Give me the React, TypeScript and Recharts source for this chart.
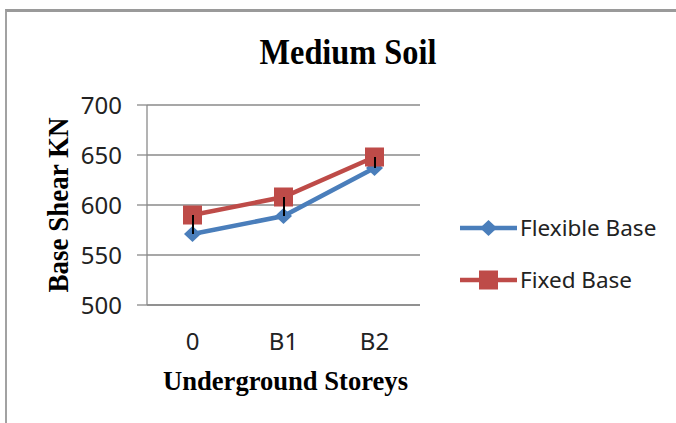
import React from 'react';
import { LineChart, BarChart, Line, Bar, XAxis, YAxis, CartesianGrid, Legend } from 'recharts';

// values
const storeys = ['0', 'B1', 'B2'];
const flexibleBase = [571, 589, 637];
const fixedBase = [590, 608, 648];
const yTicks = [500, 550, 600, 650, 700];
const yDomain = [500, 700];
const legendOrder = ['flexible', 'fixed'];

const BLUE = '#4a7ebb';
const RED = '#be4b48';
const GRID = '#8a8a8a';
const SANS = '"Noto Sans", "Open Sans", sans-serif';
const SERIF = '"Liberation Serif", "DejaVu Serif", serif';

const data = storeys.map((s, i) => ({
  storey: s,
  flexible: flexibleBase[i],
  fixed: fixedBase[i],
  // high-low line between the two series
  hiLo: [flexibleBase[i], fixedBase[i]],
}));

const diamond = (cx: number, cy: number, fill: string, key?: any) => (
  <path key={key} d={`M${cx},${cy - 8} L${cx + 8.5},${cy} L${cx},${cy + 8} L${cx - 8.5},${cy} Z`} fill={fill} />
);

const square = (cx: number, cy: number, fill: string, key?: any) => (
  <rect key={key} x={cx - 9.5} y={cy - 9.5} width={19} height={19} fill={fill} />
);

const renderLegend = (props: any) => {
  const { payload = [] } = props;
  const items = legendOrder
    .map((k) => payload.find((e: any) => e.dataKey === k && e.type !== 'none'))
    .filter(Boolean);
  return (
    <div style={{ display: 'flex', flexDirection: 'column', gap: 28 }}>
      {items.map((entry: any) => (
        <div key={entry.value} style={{ display: 'flex', alignItems: 'center', height: 24 }}>
          <svg width={62} height={24} style={{ display: 'block' }}>
            <line x1={2} x2={59} y1={12} y2={12} stroke={entry.color} strokeWidth={4.5} />
            {entry.dataKey === 'flexible' ? diamond(30.5, 12, entry.color) : square(30.5, 12, entry.color)}
          </svg>
          <span style={{ fontFamily: SANS, fontSize: 22.5, color: '#222', lineHeight: '24px' }}>{entry.value}</span>
        </div>
      ))}
    </div>
  );
};

const XLabel = (props: any) => {
  const { viewBox } = props;
  return (
    <text
      x={viewBox.x + viewBox.width / 2 + 2}
      y={viewBox.y + 85}
      textAnchor="middle"
      fontFamily={SERIF}
      fontWeight="bold"
      fontSize={27}
      fill="#000"
      textLength={245}
      lengthAdjust="spacingAndGlyphs"
    >
      Underground Storeys
    </text>
  );
};

const YLabel = (props: any) => {
  const { viewBox } = props;
  const x = viewBox.x + 21;
  const y = viewBox.y + viewBox.height / 2;
  return (
    <text
      x={x}
      y={y}
      transform={`rotate(-90 ${x} ${y})`}
      textAnchor="middle"
      fontFamily={SERIF}
      fontWeight="bold"
      fontSize={29}
      fill="#000"
      textLength={175}
      lengthAdjust="spacingAndGlyphs"
    >
      Base Shear KN
    </text>
  );
};

export default function App() {
  return (
    <div style={{ position: 'absolute', left: 0, top: 0, width: 676, height: 423, overflow: 'hidden', background: '#fff' }}>
      <div
        style={{
          position: 'absolute',
          left: 5,
          top: 9,
          width: 720,
          height: 460,
          borderLeft: '2px solid #a2a2a2',
          borderTop: '3px solid #9a9a9a',
        }}
      />
      <svg width={676} height={423} style={{ position: 'absolute', left: 0, top: 0 }}>
        <text
          x={348}
          y={64}
          textAnchor="middle"
          fontFamily={SERIF}
          fontWeight="bold"
          fontSize={35}
          fill="#000"
          textLength={177}
          lengthAdjust="spacingAndGlyphs"
        >
          Medium Soil
        </text>
      </svg>
      <div style={{ position: 'absolute', left: 0, top: 0 }}>
        <LineChart width={676} height={423} data={data} margin={{ top: 105, right: 256, bottom: 28, left: 47 }}>
          <CartesianGrid vertical={false} stroke={GRID} strokeWidth={1.3} />
          <XAxis
            dataKey="storey"
            height={90}
            padding={{ left: 45.5, right: 45.5 }}
            axisLine={{ stroke: GRID, strokeWidth: 1.3 }}
            tickLine={false}
            tickSize={0}
            tickMargin={28}
            tick={{ fontFamily: SANS, fontSize: 24, fill: '#222' }}
            label={<XLabel />}
          />
          <YAxis
            width={100}
            domain={yDomain}
            ticks={yTicks}
            interval={0}
            axisLine={{ stroke: GRID, strokeWidth: 1.3 }}
            tickLine={{ stroke: GRID, strokeWidth: 1.3 }}
            tickSize={10}
            tickMargin={15}
            tick={{ fontFamily: SANS, fontSize: 24, fill: '#222' }}
            label={<YLabel />}
          />
          <Legend
            layout="vertical"
            align="center"
            verticalAlign="middle"
            content={renderLegend}
            wrapperStyle={{ left: 458, top: 216, width: 210 }}
          />
          <Line
            name="Flexible Base"
            dataKey="flexible"
            stroke={BLUE}
            strokeWidth={4.5}
            isAnimationActive={false}
            activeDot={false}
            dot={(p: any) => diamond(p.cx, p.cy, BLUE, p.index)}
          />
          <Line
            name="Fixed Base"
            dataKey="fixed"
            stroke={RED}
            strokeWidth={4.5}
            isAnimationActive={false}
            activeDot={false}
            dot={(p: any) => square(p.cx, p.cy, RED, p.index)}
          />
        </LineChart>
      </div>
      {/* high-low lines sit above the markers, so they get their own layer on top */}
      <div style={{ position: 'absolute', left: 0, top: 0, pointerEvents: 'none' }}>
        <BarChart width={676} height={423} data={data} margin={{ top: 105, right: 256, bottom: 118, left: 147 }}>
          <XAxis dataKey="storey" hide />
          <YAxis domain={yDomain} hide />
          <Bar dataKey="hiLo" fill="#000" barSize={2} isAnimationActive={false} />
        </BarChart>
      </div>
    </div>
  );
}
